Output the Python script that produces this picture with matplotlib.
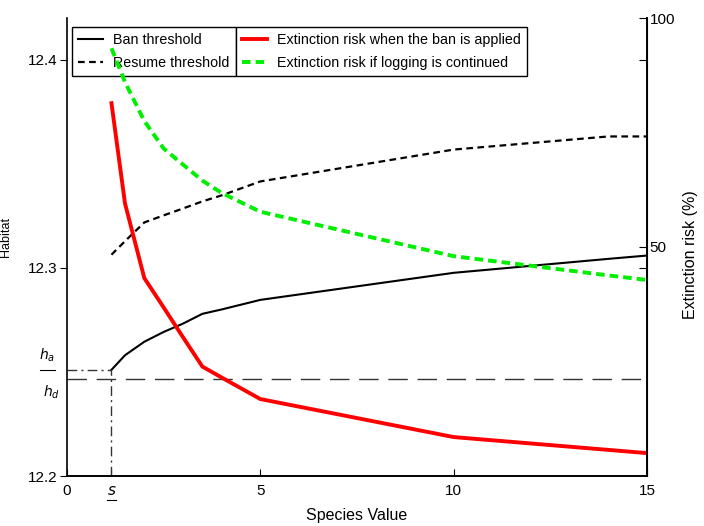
import matplotlib.pyplot as plt
import matplotlib.transforms as mtransforms
from matplotlib.lines import Line2D

# species value grid (first point is the threshold s)
species = [1.15, 1.5, 2, 2.5, 3, 3.5, 4, 5, 10, 14, 15]
ban_threshold = [12.2510, 12.2580, 12.2645, 12.2692, 12.2732, 12.2779, 12.2800,
                 12.2846, 12.2976, 12.3043, 12.3059]
resume_threshold = [12.3063, 12.3128, 12.3218, 12.3252, 12.3285, 12.3319, 12.3348,
                    12.3415, 12.3568, 12.3631, 12.3631]
risk_ban = [81.4, 59.5, 43.2, 36.8, 30.3, 23.9, 21.5, 16.8, 8.5, 5.7, 5.0]
risk_logging = [93.4, 86.0, 77.5, 71.5, 68.0, 64.5, 61.8, 57.7, 48.0, 43.8, 42.8]

s_value = 1.15
h_a = 12.2510
h_d = 12.2466

x_ticks = [0, s_value, 5, 10, 15]
x_ticklabels = ['0', '$s$', '5', '10', '15']

plt.rcParams['font.family'] = ['Liberation Sans', 'DejaVu Sans']

fig = plt.figure(figsize=(7.04, 5.26), dpi=100)
ax = fig.add_axes([67/704, 1 - 476/526, 580/704, 458/526])
ax2 = ax.twinx()

ax.plot(species, ban_threshold, color='black', lw=1.5)
ax.plot(species, resume_threshold, color='black', lw=1.6, dashes=(3, 2))

# threshold guides
ax.axhline(h_d, color='#333333', lw=1.0, dashes=(14, 7))
ax.plot([0, s_value], [h_a, h_a], color='#333333', lw=1.0, dashes=(7, 3, 1.5, 3))
ax.plot([s_value, s_value], [12.2, h_a], color='#333333', lw=1.0, dashes=(7, 3, 1.5, 3))

ax2.plot(species, risk_ban, color='#ff0000', lw=2.8)
ax2.plot(species, risk_logging, color='#00ee00', lw=2.8, dashes=(2.2, 1.3))

ax.set_xlim(0, 15)
ax.set_ylim(12.2, 12.42)
ax2.set_ylim(0, 100)

ax.set_xticks(x_ticks)
ax.set_xticklabels(x_ticklabels)
ax.set_yticks([12.2, 12.3, 12.4])
ax.set_yticklabels(['12.2', '12.3', '12.4'])
ax2.set_yticks([50, 100])

ax.tick_params(axis='x', direction='in', length=5, labelsize=11, pad=6)
ax.tick_params(axis='y', direction='out', length=5, labelsize=11, pad=2)
ax2.tick_params(axis='y', direction='in', length=6, labelsize=11, pad=2)

sec = ax.secondary_yaxis('right')
sec.set_yticks([12.3, 12.4])
sec.tick_params(direction='in', length=6, labelright=False)

for a in (ax, ax2):
    a.spines['top'].set_visible(False)
    for sp in a.spines.values():
        sp.set_linewidth(1.2)
ax2.spines['left'].set_visible(False)

# underline the s tick label
blend = mtransforms.blended_transform_factory(ax.transData, ax.transAxes)
ax.plot([s_value - 0.12, s_value + 0.12], [-0.053, -0.053], color='black', lw=0.8,
        transform=blend, clip_on=False)

# h_a / h_d labels left of the axis
yblend = mtransforms.blended_transform_factory(ax.transAxes, ax.transData)
ax.text(-0.035, h_a + 0.003, '$h_a$', transform=yblend, ha='center', va='bottom', fontsize=10)
ax.text(-0.027, h_d - 0.002, '$h_d$', transform=yblend, ha='center', va='top', fontsize=10)
ax.plot([-0.047, -0.02], [h_a, h_a], color='black', lw=0.8, transform=yblend, clip_on=False)

ax.set_xlabel('Species Value', fontsize=11.5, labelpad=7)
fig.text(6/704, 1 - 237/526, 'Habitat', rotation=90, ha='center', va='center', fontsize=9)
fig.text(690/704, 1 - 255/526, 'Extinction risk (%)', rotation=90, ha='center', va='center',
         fontsize=11.5)

leg_kw = dict(fontsize=10.3, frameon=True, fancybox=False, framealpha=1, edgecolor='black',
              handlelength=1.7, handletextpad=0.7, labelspacing=0.6, borderpad=0.45,
              borderaxespad=0, loc='upper left', bbox_transform=fig.transFigure)
h1 = [Line2D([], [], color='black', lw=1.5),
      Line2D([], [], color='black', lw=1.6, dashes=(3, 2))]
leg1 = ax.legend(h1, ['Ban threshold', 'Resume threshold'],
                 bbox_to_anchor=(72/704, 1 - 27/526), **leg_kw)
leg1.get_frame().set_linewidth(1.0)
h2 = [Line2D([], [], color='#ff0000', lw=2.8),
      Line2D([], [], color='#00ee00', lw=2.8, dashes=(2.2, 1.3))]
leg2 = ax2.legend(h2, ['Extinction risk when the ban is applied',
                       'Extinction risk if logging is continued'],
                  bbox_to_anchor=(236/704, 1 - 27/526), **leg_kw)
leg2.get_frame().set_linewidth(1.0)

fig.savefig('out.png', dpi=100)
